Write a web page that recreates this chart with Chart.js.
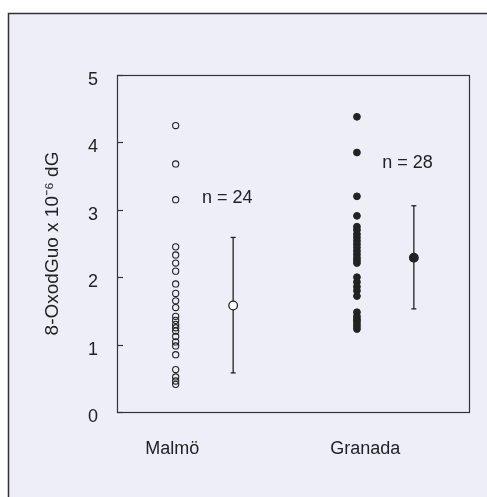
<!DOCTYPE html>
<html>
<head>
<meta charset="utf-8">
<script src="https://cdn.jsdelivr.net/npm/chart.js@4.4.1/dist/chart.umd.min.js"></script>
<style>
  html, body { margin: 0; padding: 0; background: #ffffff; }
  #wrap { width: 487px; height: 497px; }
</style>
</head>
<body>
<div id="wrap"><canvas id="oxoChart" width="487" height="497"></canvas></div>
<script>
// data
const groups = ["Malmö", "Granada"];
const malmoValues = [4.25, 3.68, 3.15, 2.45, 2.33, 2.21, 2.09, 1.90, 1.76, 1.65, 1.55, 1.42,
                     1.36, 1.30, 1.25, 1.20, 1.12, 1.04, 0.98, 0.85, 0.63, 0.52, 0.46, 0.41];
const granadaValues = [4.38, 3.85, 3.20, 2.91, 2.75, 2.70, 2.64, 2.59, 2.54, 2.49, 2.44, 2.39,
                       2.34, 2.29, 2.25, 2.21, 2.00, 1.93, 1.86, 1.80, 1.72, 1.48, 1.42, 1.38,
                       1.35, 1.31, 1.27, 1.23];
const meanValues = [1.58, 2.29];
const errLow = [0.58, 1.53];
const errHigh = [2.59, 3.06];
const nLabels = ["n = 24", "n = 28"];
const yTickValues = [0, 1, 2, 3, 4, 5];

// layout (x positions on a 0..6 scale)
const pointX = [1.0, 4.09];
const meanX = [1.98, 5.06];
const labelX = [0.94, 4.23];
const nTextPos = [[1.45, 3.17], [4.52, 3.69]];

const ink = "#222222";
const paper = "#eeeef8";
const fontFamily = "'Liberation Sans', Arial, sans-serif";

// background, outer frame, plot box, inward ticks and n labels
const framePlugin = {
    id: "framePlugin",
    beforeDraw(chart) {
        const c = chart.ctx;
        c.save();
        c.fillStyle = "#ffffff";
        c.fillRect(0, 0, chart.width, chart.height);
        c.fillStyle = paper;
        c.fillRect(8, 13, chart.width - 8, chart.height - 13);
        c.strokeStyle = "#333333";
        c.lineWidth = 1.5;
        c.beginPath();
        c.moveTo(8.5, chart.height);
        c.lineTo(8.5, 13.5);
        c.lineTo(chart.width, 13.5);
        c.stroke();
        c.restore();
    },
    afterDatasetsDraw(chart) {
        const c = chart.ctx;
        const a = chart.chartArea;
        const ys = chart.scales.y, xs = chart.scales.x;
        c.save();
        c.strokeStyle = "#333333";
        c.lineWidth = 1.2;
        c.strokeRect(a.left + 0.5, a.top + 0.5, a.right - a.left, a.bottom - a.top);
        yTickValues.forEach(v => {
            const py = Math.round(ys.getPixelForValue(v)) + 0.5;
            c.beginPath();
            c.moveTo(a.left, py);
            c.lineTo(a.left + 6, py);
            c.stroke();
        });
        c.fillStyle = ink;
        c.font = "18px " + fontFamily;
        c.textAlign = "left";
        c.textBaseline = "middle";
        nLabels.forEach((t, i) => {
            c.fillText(t, xs.getPixelForValue(nTextPos[i][0]), ys.getPixelForValue(nTextPos[i][1]));
        });
        c.restore();
    }
};

const ctx = document.getElementById("oxoChart").getContext("2d");

new Chart(ctx, {
    type: "scatter",
    data: {
        datasets: [
            {
                // group means
                data: meanValues.map((v, i) => ({ x: meanX[i], y: v })),
                pointRadius: 4.3,
                pointBorderWidth: 1.3,
                borderColor: ink,
                pointBackgroundColor: ["#ffffff", ink]
            },
            {
                data: malmoValues.map(v => ({ x: pointX[0], y: v })),
                pointRadius: 3.1,
                pointBorderWidth: 1.1,
                borderColor: ink,
                backgroundColor: "rgba(0,0,0,0)"
            },
            {
                data: granadaValues.map(v => ({ x: pointX[1], y: v })),
                pointRadius: 3.4,
                pointBorderWidth: 1,
                borderColor: ink,
                backgroundColor: ink
            },
            ...groups.map((g, i) => ({
                type: "line",
                data: [{ x: meanX[i], y: errLow[i] }, { x: meanX[i], y: errHigh[i] }],
                showLine: true,
                borderColor: ink,
                borderWidth: 1.3,
                pointStyle: "line",
                pointRadius: 2.5,
                pointBorderWidth: 1.3,
                pointBorderColor: ink
            }))
        ]
    },
    options: {
        responsive: false,
        animation: false,
        events: [],
        layout: { padding: { left: 0, top: 75, right: 18, bottom: 0 } },
        plugins: { legend: { display: false }, tooltip: { enabled: false } },
        scales: {
            x: {
                type: "linear",
                min: 0,
                max: 6,
                grid: { display: false, drawTicks: false },
                border: { display: false },
                afterBuildTicks: scale => { scale.ticks = labelX.map(v => ({ value: v })); },
                afterFit: scale => { scale.height = 85; },
                ticks: {
                    autoSkip: false,
                    maxRotation: 0,
                    padding: 26,
                    color: ink,
                    font: { size: 18, family: fontFamily },
                    callback: (value, index) => groups[index]
                }
            },
            y: {
                min: 0,
                max: 5,
                grid: { display: false, drawTicks: false },
                border: { display: false },
                afterBuildTicks: scale => { scale.ticks = yTickValues.map(v => ({ value: v })); },
                afterFit: scale => { scale.width = 117; },
                ticks: {
                    padding: 19,
                    labelOffset: 5,
                    color: ink,
                    font: { size: 18, family: fontFamily }
                },
                title: {
                    display: true,
                    text: "8-OxodGuo x 10⁻⁶ dG",
                    color: ink,
                    font: { size: 19, family: fontFamily },
                    padding: { top: 41, bottom: 0 }
                }
            }
        }
    },
    plugins: [framePlugin]
});
</script>
</body>
</html>
